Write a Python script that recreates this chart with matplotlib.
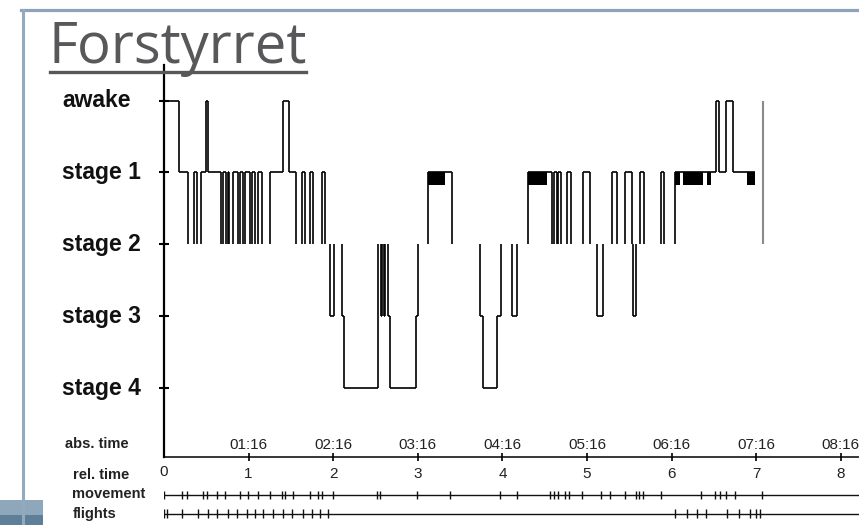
import numpy as np
import matplotlib
matplotlib.use('Agg')
import matplotlib.pyplot as plt
from matplotlib.transforms import blended_transform_factory
from matplotlib.patches import Rectangle
from matplotlib.lines import Line2D

W, H = 859, 525

# ---------------- data ----------------
stage_names = ['awake', 'stage 1', 'stage 2', 'stage 3', 'stage 4']
stage_levels = [0, 1, 2, 3, 4]

# start time (hours) of each epoch and its stage (0 = awake ... 4 = stage 4)
stage_t = [0.000, 0.181, 0.287, 0.355, 0.390, 0.437, 0.491, 0.524, 0.674, 0.701,
           0.733, 0.751, 0.772, 0.812, 0.878, 0.898, 0.934, 0.957, 1.017, 1.044,
           1.076, 1.115, 1.155, 1.253, 1.410, 1.481, 1.560, 1.635, 1.667, 1.726,
           1.765, 1.864, 1.903, 1.962, 2.013, 2.100, 2.128, 2.533, 2.561, 2.577,
           2.595, 2.612, 2.651, 2.671, 2.979, 3.006, 3.124, 3.401, 3.735, 3.767,
           3.933, 3.980, 4.117, 4.169, 4.306, 4.583, 4.610, 4.642, 4.663, 4.689,
           4.767, 4.807, 4.956, 5.035, 5.122, 5.186, 5.299, 5.351, 5.449, 5.528,
           5.547, 5.579, 5.626, 5.674, 5.875, 5.914, 6.040, 6.525, 6.564, 6.643,
           6.730]
stage_v = [0, 1, 2, 1, 2, 1, 0, 1, 2, 1,
           2, 1, 2, 1, 2, 1, 2, 1, 2, 1,
           2, 1, 2, 1, 0, 1, 2, 1, 2, 1,
           2, 1, 2, 3, 2, 3, 4, 2, 3, 2,
           3, 2, 3, 4, 3, 2, 1, 2, 3, 4,
           3, 2, 3, 2, 1, 2, 1, 2, 1, 2,
           1, 2, 1, 2, 3, 2, 1, 2, 1, 2,
           3, 2, 1, 2, 1, 2, 1, 0, 1, 0,
           1]
t_end = 6.986

# dense stage-1 periods drawn as solid blocks
block_start = [3.124, 4.306, 6.040, 6.131, 6.415, 6.888]
block_end = [3.322, 4.523, 6.099, 6.368, 6.466, 6.986]

lights_on = 7.084

rel_ticks = [1, 2, 3, 4, 5, 6, 7, 8]
rel_labels = ['1', '2', '3', '4', '5', '6', '7', '8']
abs_labels = ['01:16', '02:16', '03:16', '04:16', '05:16', '06:16', '07:16', '08:16']

movement_t = [0.00, 0.21, 0.27, 0.46, 0.51, 0.63, 0.72, 0.90, 0.99, 1.11, 1.25,
              1.39, 1.43, 1.52, 1.73, 1.82, 1.87, 2.00, 2.52, 2.55, 2.99, 3.38,
              3.97, 4.17, 4.56, 4.61, 4.66, 4.74, 4.79, 4.94, 5.17, 5.27, 5.45,
              5.58, 5.61, 5.66, 5.87, 6.35, 6.51, 6.57, 6.64, 6.75, 7.07]
flights_t = [0.00, 0.04, 0.21, 0.40, 0.52, 0.63, 0.76, 0.86, 0.98, 1.08, 1.17,
             1.29, 1.41, 1.51, 1.64, 1.75, 1.84, 1.94, 6.04, 6.18, 6.30, 6.41,
             6.65, 6.80, 6.93, 7.00, 7.05]

# ---------------- figure ----------------
fig = plt.figure(figsize=(W / 100, H / 100), dpi=100)
fig.patch.set_facecolor('white')

def fx(x):
    return x / W

def fy(y):
    return 1 - y / H

frame_col = '#8ea3b9'
fig.add_artist(Rectangle((0, fy(515)), fx(43), 15 / H, color='#8fa7bb', lw=0))
fig.add_artist(Rectangle((0, 0), fx(43), 10 / H, color='#5e7f99', lw=0))
fig.add_artist(Line2D([fx(21), 1], [fy(10), fy(10)], color=frame_col, lw=2.3))
fig.add_artist(Line2D([fx(22.5), fx(22.5)], [fy(10), 0], color='#93a9bd', lw=2.2))

# title
fig.text(fx(49), fy(63), 'Forstyrret', fontfamily='Open Sans', fontsize=40.5,
         color='#58585a', va='baseline', ha='left')
fig.add_artist(Line2D([fx(50), fx(306)], [fy(71.7), fy(71.7)], color='#58585a', lw=2.4))

# main hypnogram axes
x0, xr = 164, W
ytop, ybot = 65, 457.3
ax = fig.add_axes([fx(x0), fy(ybot), (xr - x0) / W, (ybot - ytop) / H])
ax.set_xlim(0, 8.215)
ax.set_ylim(4.962, -0.494)
for s in ['top', 'right']:
    ax.spines[s].set_visible(False)
ax.spines['left'].set_linewidth(1.6)
ax.spines['bottom'].set_linewidth(1.1)
ax.set_facecolor('none')

ax.set_yticks(stage_levels)
ax.set_yticklabels([])
ax.tick_params(axis='y', direction='inout', length=7, width=1.5)
ax.set_xticks(rel_ticks)
ax.set_xticklabels([])
ax.tick_params(axis='x', direction='inout', length=6, width=1.2)

t = np.array(stage_t + [t_end])
v = np.array(stage_v)
mask = v != 2
ax.hlines(v[mask], t[:-1][mask], t[1:][mask], color='black', lw=1.2)
ax.vlines(t[1:-1], v[:-1], v[1:], color='black', lw=1.2)
bs = np.array(block_start)
be = np.array(block_end)
ax.bar(bs, 0.18, width=be - bs, bottom=1, align='edge', color='black', lw=0)
ax.vlines([lights_on], 0, 2, color='#8a8a8a', lw=1.5)

# stage labels
tr_y = blended_transform_factory(fig.transFigure, ax.transData)
for lvl, name in zip(stage_levels, stage_names):
    ax.text(fx(62), lvl, name, transform=tr_y, ha='left', va='center',
            fontfamily='Liberation Sans', fontweight='bold', fontsize=16.5,
            color='#111111')

# time labels
tr_x = blended_transform_factory(ax.transData, fig.transFigure)
for xt, rl, al in zip(rel_ticks, rel_labels, abs_labels):
    ax.text(xt, fy(445), al, transform=tr_x, ha='center', va='center',
            fontfamily='Liberation Sans', fontsize=11, color='#222222')
    ax.text(xt, fy(474), rl, transform=tr_x, ha='center', va='center',
            fontfamily='Liberation Sans', fontsize=11, color='#222222')
ax.text(0, fy(472), '0', transform=tr_x, ha='center', va='center',
        fontfamily='Liberation Sans', fontsize=11, color='#222222')

# event rows
ax2 = fig.add_axes([fx(x0), 0, (xr - x0) / W, 62 / H])
ax2.set_xlim(0, 8.215)
ax2.set_ylim(525, 463)
ax2.axis('off')
row_move, row_fl = 494.5, 513.5
ax2.hlines([row_move, row_fl], 0, 8.215, color='#111111', lw=1.0)
ax2.vlines(movement_t, row_move - 4, row_move + 4, color='#111111', lw=1.0)
ax2.vlines(flights_t, row_fl - 4.5, row_fl + 4.5, color='#111111', lw=1.0)

row_labels = [('abs. time', 65, 444), ('rel. time', 73, 475),
              ('movement', 72, 494), ('flights', 73, 514)]
for txt, xx, yy in row_labels:
    fig.text(fx(xx), fy(yy), txt, ha='left', va='center',
             fontfamily='Liberation Sans', fontweight='bold', fontsize=10.5,
             color='#222222')

fig.savefig('out.png', dpi=100)
